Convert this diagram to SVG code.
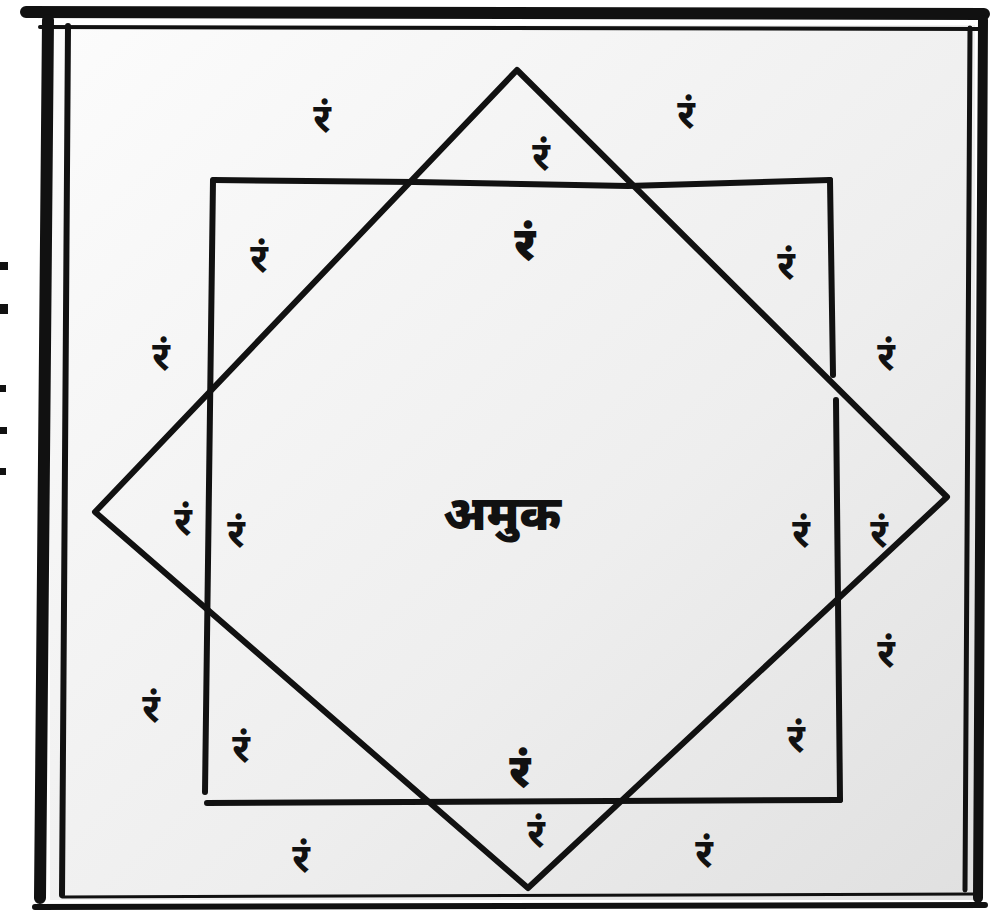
<svg xmlns="http://www.w3.org/2000/svg" width="992" height="911" viewBox="0 0 992 911">
<defs>
<linearGradient id="bg" x1="0" y1="0" x2="1" y2="1">
<stop offset="0" stop-color="#fcfcfc"/>
<stop offset="0.6" stop-color="#eeeeee"/>
<stop offset="1" stop-color="#e0e0e0"/>
</linearGradient>
<style>
.ln{stroke:#111;fill:none;stroke-linecap:round;stroke-linejoin:round}
.t{font-family:"Noto Sans Devanagari","Noto Serif Devanagari","Lohit Devanagari","Mangal",serif;font-size:40px;fill:#111;text-anchor:middle;font-weight:bold}
.b{font-size:46px;font-weight:900}
</style>
</defs>
<rect width="992" height="911" fill="#ffffff"/>
<rect x="50" y="25" width="925" height="875" fill="url(#bg)"/>
<g id="margin">
<rect x="0" y="262" width="8" height="8" fill="#111"/>
<rect x="0" y="304" width="8" height="10" fill="#111"/>
<rect x="0" y="385" width="6" height="7" fill="#111"/>
<rect x="0" y="427" width="7" height="7" fill="#111"/>
<rect x="0" y="468" width="6" height="7" fill="#111"/>
</g>
<g id="frame" class="ln">
<path d="M26 12 L984 14" stroke-width="12"/>
<path d="M40 27 L982 29" stroke-width="4"/>
<path d="M48 20 L40 898" stroke-width="12"/>
<path d="M68 26 L62 895" stroke-width="6"/>
<path d="M970 28 L965 890" stroke-width="5"/>
<path d="M983 20 L978 898" stroke-width="10"/>
<path d="M62 897 L975 894" stroke-width="3"/>
<path d="M35 907 L985 905" stroke-width="6"/>
</g>
<g id="square" class="ln" stroke-width="6">
<path d="M214 180 L415 182 L628 186 L830 180"/>
<path d="M213 180 L205 792"/>
<path d="M830 180 L833 375"/>
<path d="M836 400 L840 800"/>
<path d="M207 803 L840 800"/>
</g>
<g id="diamond" class="ln" stroke-width="6">
<path d="M517 70 L947 497 L528 888 L95 512 Z"/>
</g>
<g id="labels">
<text class="t" x="322" y="132">रं</text>
<text class="t" x="686" y="128">रं</text>
<text class="t" x="541" y="170">रं</text>
<text class="t b" x="525" y="260">रं</text>
<text class="t" x="259" y="272">रं</text>
<text class="t" x="786" y="279">रं</text>
<text class="t" x="161" y="370">रं</text>
<text class="t" x="886" y="370">रं</text>
<text class="t" x="183" y="535">रं</text>
<text class="t" x="236" y="547">रं</text>
<text class="t" x="801" y="547">रं</text>
<text class="t" x="879" y="547">रं</text>
<text class="t" x="886" y="667">रं</text>
<text class="t" x="151" y="722">रं</text>
<text class="t" x="241" y="762">रं</text>
<text class="t" x="796" y="752">रं</text>
<text class="t b" x="520" y="787">रं</text>
<text class="t" x="536" y="847">रं</text>
<text class="t" x="301" y="872">रं</text>
<text class="t" x="704" y="867">रं</text>
<text class="t b" x="502" y="530" style="font-size:48px">अमुक</text>
</g>
</svg>
